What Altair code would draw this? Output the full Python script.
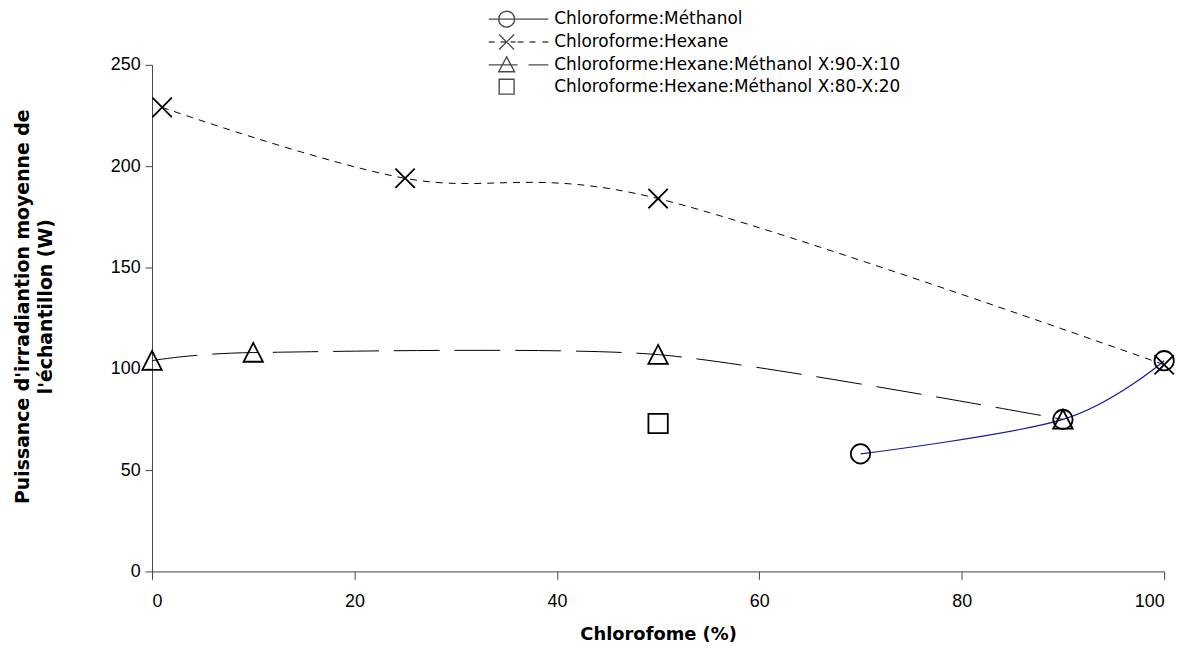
import altair as alt
import pandas as pd

# ---- data ----
series_names = [
    "Chloroforme:Méthanol",
    "Chloroforme:Hexane",
    "Chloroforme:Hexane:Méthanol  X:90-X:10",
    "Chloroforme:Hexane:Méthanol  X:80-X:20",
]
methanol_x = [70, 90, 100]
methanol_y = [58, 75, 104]
hexane_x = [1, 25, 50, 100]
hexane_y = [229, 194, 184, 102]
chm9010_x = [0, 10, 50, 90]
chm9010_y = [104, 108, 107, 75]
chm8020_x = [50]
chm8020_y = [73]

x_ticks = [0, 20, 40, 60, 80, 100]
y_ticks = [0, 50, 100, 150, 200, 250]


def frame(name, xs, ys):
    return pd.DataFrame({"series": name, "x": xs, "y": ys})


df_meth = frame(series_names[0], methanol_x, methanol_y)
df_hex = frame(series_names[1], hexane_x, hexane_y)
df_9010 = frame(series_names[2], chm9010_x, chm9010_y)
df_8020 = frame(series_names[3], chm8020_x, chm8020_y)
df_all = pd.concat([df_meth, df_hex, df_9010, df_8020], ignore_index=True)

FONT = "Liberation Sans"
WIDE = "DejaVu Sans"

xenc = alt.X(
    "x:Q",
    scale=alt.Scale(domain=[0, 100], nice=False),
    axis=alt.Axis(
        values=x_ticks,
        title="Chlorofome (%)",
        titleFont=WIDE,
        titleFontSize=18,
        titleFontWeight="bold",
        titleY=55,
        titleBaseline="top",
        labelPadding=13,
        tickSize=8,
    ),
)
yenc = alt.Y(
    "y:Q",
    scale=alt.Scale(domain=[0, 250], nice=False),
    axis=alt.Axis(
        values=y_ticks,
        title=["Puissance d'irradiantion moyenne de", "l'échantillon (W)"],
        titleFont=WIDE,
        titleFontSize=19,
        titleFontWeight="bold",
        titleLineHeight=23,
        titleX=-120,
        titleY=243,
    ),
)

line_meth = alt.Chart(df_meth).mark_line(
    interpolate="cardinal", color="#1a1a9a", strokeWidth=1.2
).encode(x=xenc, y=yenc)

line_hex = alt.Chart(df_hex).mark_line(
    interpolate="cardinal", color="black", strokeWidth=1, strokeDash=[7, 6]
).encode(x=xenc, y=yenc)

line_9010 = alt.Chart(df_9010).mark_line(
    interpolate="cardinal", tension=0.3, color="black", strokeWidth=1,
    strokeDash=[46, 15]
).encode(x=xenc, y=yenc)

marker_paths = [
    "circle",
    "M-1,-1L1,1M-1,1L1,-1",
    "M0,-1L1,0.95L-1,0.95Z",
    "square",
]

points = alt.Chart(df_all).mark_point(
    filled=False, color="black", strokeWidth=1.8, size=380, opacity=1
).encode(
    x=xenc,
    y=yenc,
    shape=alt.Shape(
        "series:N",
        scale=alt.Scale(domain=series_names, range=marker_paths),
        legend=None,
    ),
)

# legend symbols: line + marker drawn as one symbol path (unit = 10 px)
k = 0.4418
circ = (
    "M0.8,0C0.8,{k} {k},0.8 0,0.8C-{k},0.8 -0.8,{k} -0.8,0"
    "C-0.8,-{k} -{k},-0.8 0,-0.8C{k},-0.8 0.8,-{k} 0.8,0Z"
).format(k=k)
legend_paths = [
    "M-1.8,0H4.2" + circ,
    "M-1.8,0H-1.2M-0.6,0H-0.1M0.4,0H0.9M1.1,0H1.7M2.3,0H2.9M3.6,0H4.2"
    "M-0.75,-0.75L0.75,0.75M-0.75,0.75L0.75,-0.75",
    "M-1.8,0H1.1M2.2,0H4.2M0,-0.8L0.8,0.7L-0.8,0.7Z",
    "M-0.75,-0.75H0.75V0.75H-0.75Z",
]

legend_proxy = alt.Chart(df_all).mark_point(
    filled=False, color="black", strokeWidth=1.4
).encode(
    x=xenc,
    y=yenc,
    shape=alt.Shape(
        "series:N",
        scale=alt.Scale(domain=series_names, range=legend_paths),
        legend=alt.Legend(
            title=None,
            orient="none",
            legendX=346,
            legendY=-57,
            symbolSize=400,
            symbolStrokeWidth=1.4,
            symbolStrokeColor="black",
            symbolFillColor="transparent",
            labelFont=WIDE,
            labelFontSize=17,
            labelColor="black",
            labelOffset=37,
            labelLimit=0,
            rowPadding=1,
            padding=0,
        ),
    ),
).transform_filter("false")

chart = (
    alt.layer(line_meth, line_hex, line_9010, points, legend_proxy)
    .resolve_scale(shape="independent")
    .properties(
        width=1019,
        height=510,
        padding={"left": 145, "top": 55, "right": 26, "bottom": 92},
        autosize=alt.AutoSizeParams(type="none"),
    )
    .configure_view(stroke=None)
    .configure_axis(
        grid=False,
        labelFont=FONT,
        labelFontSize=18,
        labelColor="black",
        domainColor="#444444",
        tickColor="#444444",
        tickSize=7,
        labelPadding=5,
        titleColor="black",
    )
)

chart.save("out.html", embed_options={"renderer": "svg", "actions": False})
